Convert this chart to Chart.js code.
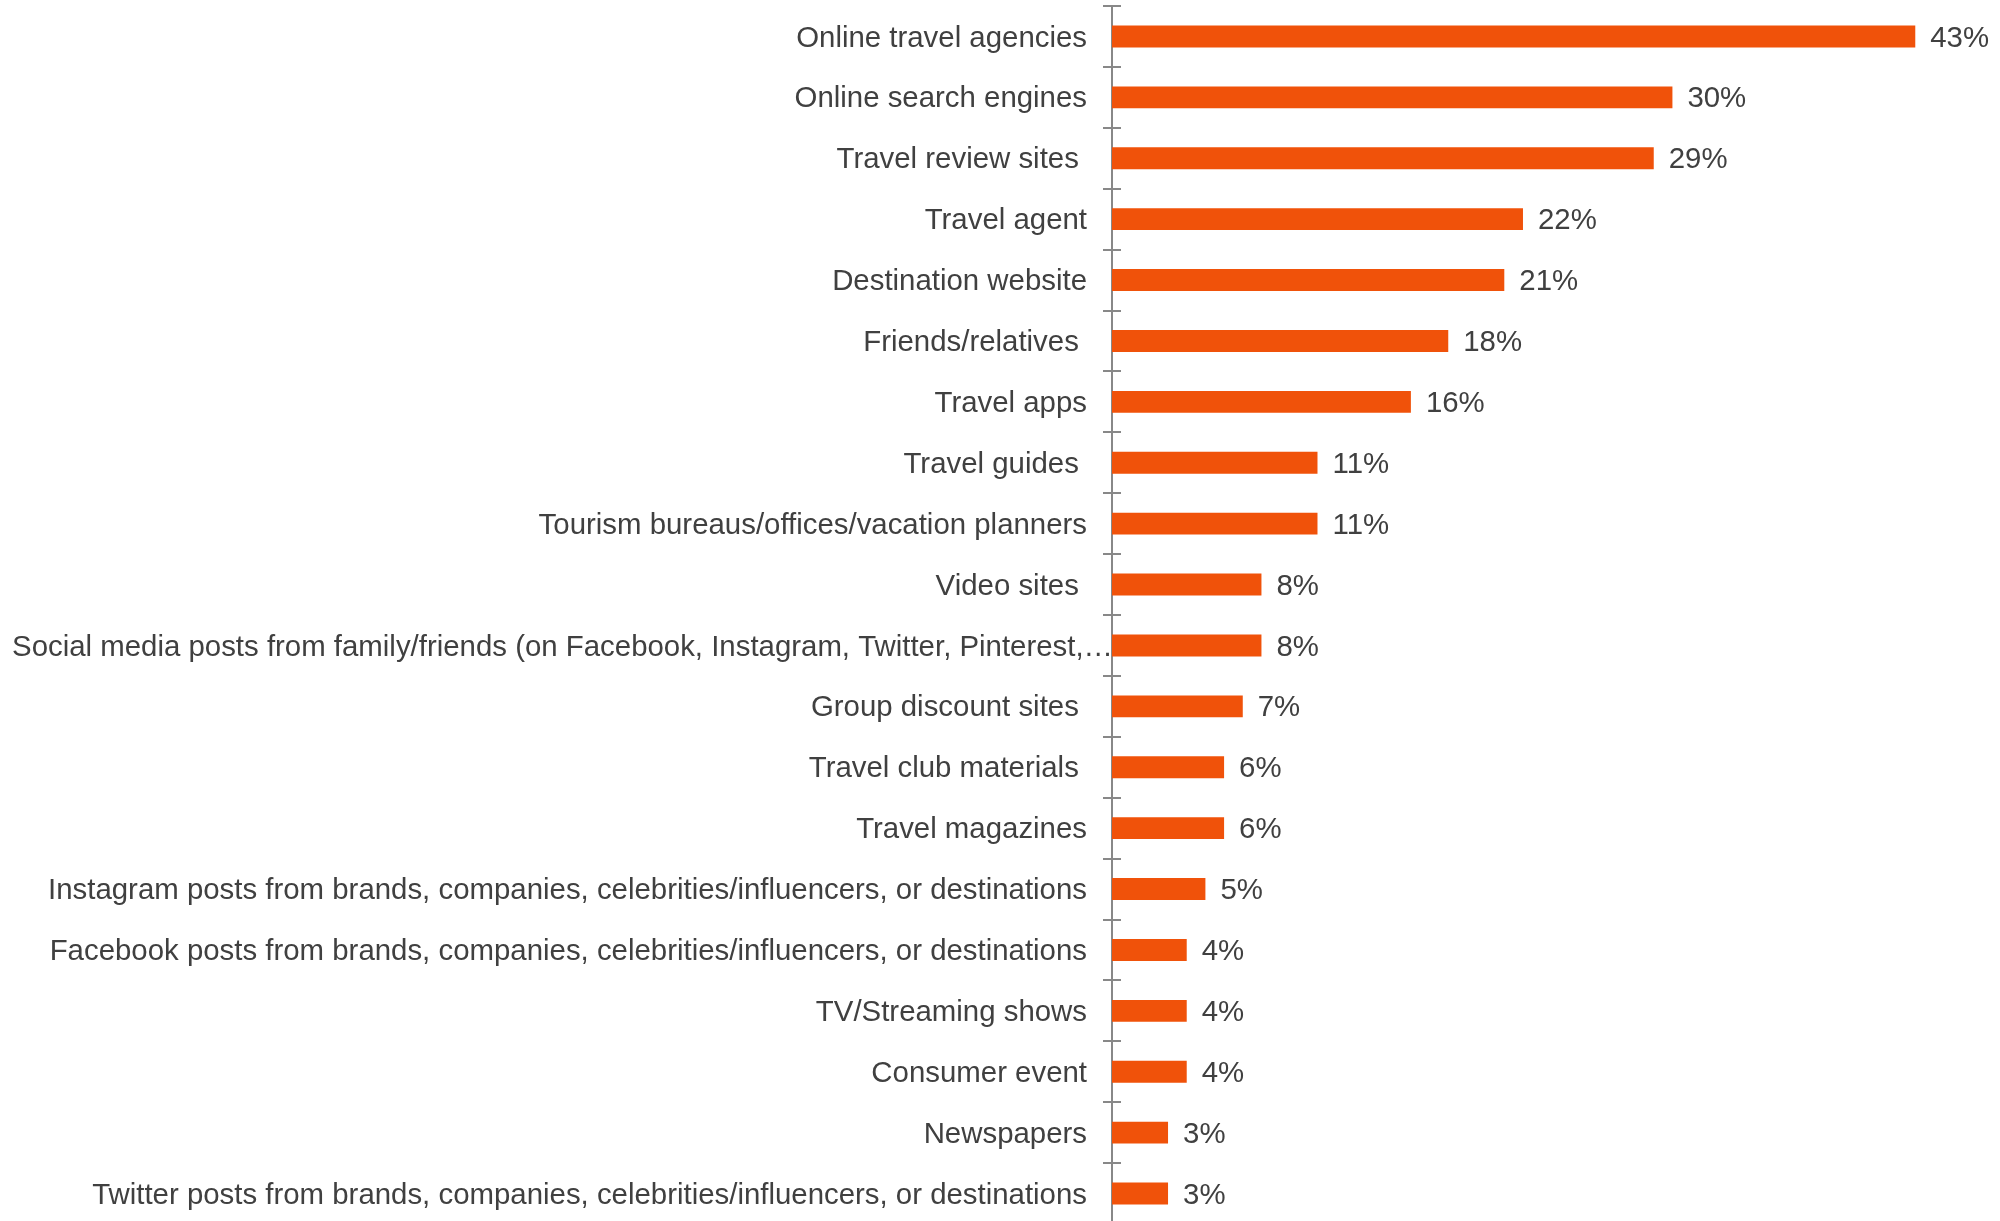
<!DOCTYPE html>
<html>
<head>
<meta charset="utf-8">
<script src="https://cdn.jsdelivr.net/npm/chart.js@4/dist/chart.umd.min.js"></script>
<style>
  html, body { margin: 0; padding: 0; background: #ffffff; overflow: hidden; }
  #wrap { width: 2000px; height: 1230px; }
</style>
</head>
<body>
<div id="wrap"><canvas id="chart" width="2000" height="1230"></canvas></div>
<script>
// Information sources used for travel planning (share of respondents)
const categories = [
  "Online travel agencies",
  "Online search engines",
  "Travel review sites ",
  "Travel agent",
  "Destination website",
  "Friends/relatives ",
  "Travel apps",
  "Travel guides ",
  "Tourism bureaus/offices/vacation planners",
  "Video sites ",
  "Social media posts from family/friends (on Facebook, Instagram, Twitter, Pinterest,\u2026",
  "Group discount sites ",
  "Travel club materials ",
  "Travel magazines",
  "Instagram posts from brands, companies, celebrities/influencers, or destinations",
  "Facebook posts from brands, companies, celebrities/influencers, or destinations",
  "TV/Streaming shows",
  "Consumer event",
  "Newspapers",
  "Twitter posts from brands, companies, celebrities/influencers, or destinations"
];
const shares = [43, 30, 29, 22, 21, 18, 16, 11, 11, 8, 8, 7, 6, 6, 5, 4, 4, 4, 3, 3];
const valueLabels = shares.map(v => v + "%");

const FONT = '29.4px "Liberation Sans", Arial, sans-serif';
const TEXT = '#404040';
const AXIS = '#888888';
const BAR = '#F0520A';

// Category labels, value labels and the tick marks on the right of the axis
const decorations = {
  id: 'decorations',
  afterDatasetsDraw(chart) {
    const ctx = chart.ctx;
    const y = chart.scales.y;
    const area = chart.chartArea;
    ctx.save();

    // ticks crossing to the right side of the axis
    ctx.strokeStyle = AXIS;
    ctx.lineWidth = 2;
    for (let i = 0; i <= categories.length; i++) {
      const py = Math.round(y.getPixelForValue(i - 0.5));
      ctx.beginPath();
      ctx.moveTo(area.left, py);
      ctx.lineTo(area.left + 9, py);
      ctx.stroke();
    }

    ctx.font = FONT;
    ctx.fillStyle = TEXT;
    ctx.textBaseline = 'middle';

    // category labels, right aligned against the axis
    ctx.textAlign = 'right';
    categories.forEach((label, i) => {
      const py = y.getPixelForValue(i);
      const fullWidth = ctx.measureText(label).width;
      let rx = area.left - 25;
      if (rx - fullWidth < 12) rx = area.left + 1; // long label runs up to the axis
      ctx.fillText(label, rx, py + 2);
    });

    // value labels after each bar
    ctx.textAlign = 'left';
    const meta = chart.getDatasetMeta(0);
    meta.data.forEach((bar, i) => {
      ctx.fillText(valueLabels[i], bar.x + 15, bar.y + 2);
    });
    ctx.restore();
  }
};

new Chart(document.getElementById('chart'), {
  type: 'bar',
  data: {
    labels: categories,
    datasets: [{
      data: shares,
      backgroundColor: BAR,
      borderWidth: 0,
      barPercentage: 0.36,
      categoryPercentage: 1.0
    }]
  },
  options: {
    indexAxis: 'y',
    responsive: false,
    animation: false,
    events: [],
    layout: { padding: { top: 6, right: 10, bottom: 6, left: 0 } },
    plugins: {
      legend: { display: false },
      tooltip: { enabled: false },
      title: { display: false }
    },
    scales: {
      x: {
        display: false,
        min: 0,
        max: 47
      },
      y: {
        offset: true,
        ticks: { display: false },
        grid: {
          offset: true,
          drawOnChartArea: false,
          drawTicks: true,
          tickLength: 9,
          color: AXIS,
          lineWidth: 2
        },
        border: { display: true, color: AXIS, width: 2 },
        afterFit(scale) { scale.width = 1112; }
      }
    }
  },
  plugins: [decorations]
});
</script>
</body>
</html>
